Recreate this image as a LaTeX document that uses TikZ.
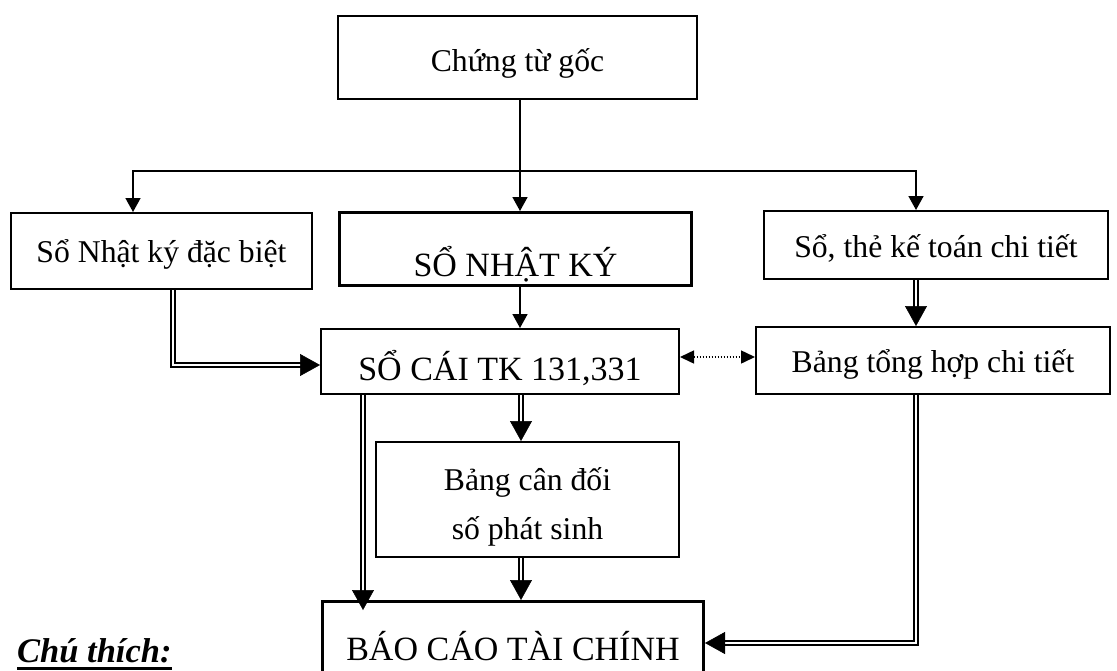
\documentclass[tikz,border=0pt]{standalone}
\usepackage{fontspec}
\setmainfont{Liberation Serif}
\usetikzlibrary{arrows.meta,decorations.markings}
\newcommand\fsN{\fontsize{31.7pt}{36pt}\selectfont}
\newcommand\fsL{\fontsize{34pt}{40pt}\selectfont}
\newcommand\myul[1]{\setbox0\hbox{#1}\rlap{\rule[-8pt]{\wd0}{3pt}}\box0}
\begin{document}
\begin{tikzpicture}[x=1pt,y=-1pt,
  box/.style={draw, line width=2pt, inner sep=0pt, anchor=base, font=\fsN},
  heavy/.style={line width=3.2pt, font=\fsL},
  arr/.style={line width=1.6pt, -{Triangle[length=14pt,width=15pt]}},
  dbl/.style={double, line width=2.1pt, double distance=2.3pt, shorten >=17pt,
     postaction={decorate, decoration={markings, mark=at position 1 with {\arrow[line width=0.5pt]{Triangle[length=20pt,width=22pt]}}}}},
  dotarr/.style={line width=1.5pt, dash pattern=on 1.5pt off 1.5pt, {Triangle[length=14pt,width=13pt]}-{Triangle[length=14pt,width=13pt]}},
]
\useasboundingbox (0,0) rectangle (1117,670);
\clip (0,0) rectangle (1117,670);

\node[box, minimum width=359pt, text height=55pt, text depth=28pt] (ctg) at (517.5,71) {Chứng từ gốc};
\node[box, minimum width=301pt, text height=49pt, text depth=27pt] (nkdb) at (161.5,262) {Sổ Nhật ký đặc biệt};
\node[box, heavy, minimum width=352pt, text height=63.4pt, text depth=9.4pt] (snk) at (515.5,276) {SỔ NHẬT KÝ};
\node[box, minimum width=344pt, text height=46pt, text depth=22pt] (stk) at (936,257) {Sổ, thẻ kế toán chi tiết};
\node[box, font=\fsL, minimum width=358pt, text height=51pt, text depth=14pt] (socai) at (500,380) {SỔ CÁI TK 131,331};
\node[box, minimum width=354pt, text height=45pt, text depth=22pt] (bth) at (933,372) {Bảng tổng hợp chi tiết};
\node[box, anchor=center, align=center, minimum width=303pt, minimum height=115pt, text height=97pt, text depth=18pt, font=\fontsize{31.7pt}{49pt}\selectfont] (bcd) at (527.5,499.5) {Bảng cân đối\\số phát sinh};
\node[box, heavy, minimum width=380.8pt, text height=58.4pt, text depth=60pt] (bctc) at (513,660) {BÁO CÁO TÀI CHÍNH};
\node[anchor=base west, inner sep=0pt, font=\fontsize{34.5pt}{40pt}\selectfont\bfseries\itshape] (ct) at (17,662) {\myul{Chú thích:}};

\coordinate (j) at (520,171);
\coordinate (bcin) at (363,610);

\draw[line width=1.6pt] (ctg.south -| j) -- (j);
\draw[arr] (j) -- (snk.north -| j);
\draw[arr] (j) -| (nkdb.north -| 133,0);
\draw[arr] (j) -| (stk.north -| 916,0);
\draw[arr] (snk.south -| 520,0) -- (socai.north -| 520,0);

\draw[dbl] (nkdb.south -| 173,0) |- (socai.west |- 0,365);
\draw[dbl] (stk.south -| 916,0) -- (bth.north -| 916,0);
\draw[dotarr] (socai.east |- 0,357) -- (bth.west |- 0,357);
\draw[dbl] (socai.south -| 521,0) -- (bcd.north -| 521,0);
\draw[dbl] (socai.south -| 363,0) -- (bcin);
\draw[dbl] (bcd.south -| 521,0) -- (bctc.north -| 521,0);
\draw[dbl] (bth.south -| 916,0) |- (bctc.east |- 0,643);
\end{tikzpicture}
\end{document}
